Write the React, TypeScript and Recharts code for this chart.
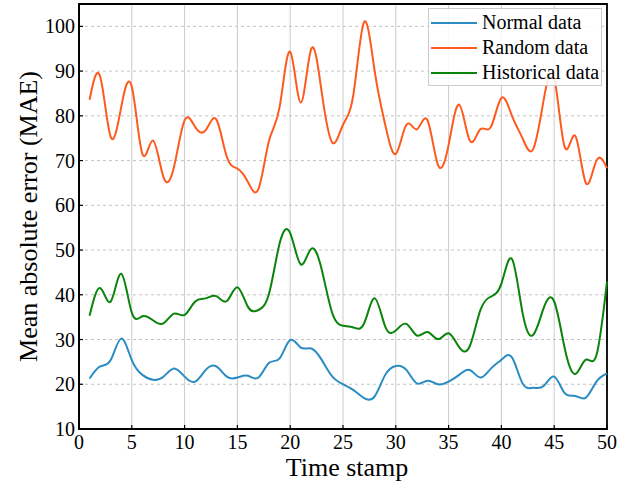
import React from "react";
import {
  CartesianGrid,
  Line,
  LineChart,
  ReferenceArea,
  XAxis,
  YAxis,
} from "recharts";

const timeStamps = Array.from({ length: 50 }, (_, i) => i + 1);

const normalData = [
  21.3, 24, 25.4, 30.2, 25.4, 22.1, 21, 21.7, 23.5, 21.7,
  20.6, 23.2, 24, 21.7, 21.5, 21.9, 21.5, 24.8, 25.8, 29.9,
  28.2, 28, 25.4, 21.7, 20, 18.7, 16.9, 17.3, 22.1, 24.1,
  23.2, 20.2, 20.8, 20, 20.6, 22.1, 23.2, 21.5, 23.5, 25.5,
  26, 20.2, 19.2, 19.6, 21.7, 18, 17.4, 17, 20.6, 22.4,
];

const randomData = [
  83.6, 88.8, 75.3, 82, 86.5, 71.5, 74.5, 66.3, 68.6, 79,
  77.5, 76.8, 79.2, 70.8, 68.2, 65.2, 63.7, 74.5, 82, 94.3,
  83, 95, 85, 74, 78, 85, 101, 90, 78, 71.5,
  78, 77, 79, 69, 73.5, 82.5, 74.5, 77, 77.5, 84,
  80, 75, 72.5, 83.5, 88.5, 73, 75.5, 65, 70, 68.3,
];

const historicalData = [
  35.3, 41.5, 38.5, 44.7, 36, 35.2, 34.3, 33.6, 35.8, 35.5,
  38.5, 39.2, 39.7, 38.6, 41.7, 37.3, 36.6, 40.3, 51.5, 53.8,
  46.8, 50.3, 45.5, 35.8, 33.1, 32.7, 33.6, 39.2, 32.9, 32,
  33.5, 30.9, 31.7, 30.1, 31.4, 28.3, 28.5, 36.5, 39.6, 42.5,
  48, 36, 31, 37, 38.5, 28, 22.3, 25.5, 26.5, 43,
];

const xTicks = [0, 5, 10, 15, 20, 25, 30, 35, 40, 45, 50];
const yTicks = [10, 20, 30, 40, 50, 60, 70, 80, 90, 100];

const series = [
  { key: "normal", name: "Normal data", color: "#2b8cc4" },
  { key: "random", name: "Random data", color: "#ff5a1e" },
  { key: "historical", name: "Historical data", color: "#0a840a" },
];

const rows = timeStamps.map((t, i) => ({
  t,
  normal: normalData[i],
  random: randomData[i],
  historical: historicalData[i],
}));

const FONT = "'Liberation Serif', 'Times New Roman', serif";

function XTick({ x, y, payload }: any) {
  return (
    <g>
      <line x1={x} y1={y} x2={x} y2={y - 4} stroke="#000" strokeWidth={1.2} />
      <text x={x} y={y + 20} textAnchor="middle" style={{ fontFamily: FONT, fontSize: 20 }} fill="#000">
        {payload.value}
      </text>
    </g>
  );
}

function YTick({ x, y, payload }: any) {
  return (
    <g>
      <line x1={x} y1={y} x2={x + 4} y2={y} stroke="#000" strokeWidth={1.2} />
      <text x={x - 4} y={y + 7} textAnchor="end" style={{ fontFamily: FONT, fontSize: 20 }} fill="#000">
        {payload.value}
      </text>
    </g>
  );
}

function XLabel({ viewBox }: any) {
  const cx = viewBox.x + viewBox.width / 2 + 4;
  return (
    <text x={cx} y={viewBox.y + 47} textAnchor="middle" style={{ fontFamily: FONT, fontSize: 26 }} fill="#000">
      Time stamp
    </text>
  );
}

function YLabel({ viewBox }: any) {
  const bx = viewBox.x + 37;
  const cy = viewBox.y + viewBox.height / 2;
  return (
    <text
      x={bx}
      y={cy}
      transform={`rotate(-90 ${bx} ${cy})`}
      textAnchor="middle"
      style={{ fontFamily: FONT, fontSize: 26 }}
      fill="#000"
    >
      Mean absolute error (MAE)
    </text>
  );
}

function LegendBox() {
  return (
    <div
      style={{
        position: "absolute",
        left: 428,
        top: 8,
        width: 172,
        height: 76,
        border: "1px solid #cccccc",
        background: "rgba(255,255,255,0.85)",
        fontFamily: FONT,
        fontSize: 20,
      }}
    >
      {series.map((s, i) => (
        <div
          key={s.key}
          style={{
            position: "absolute",
            left: 2,
            top: 1 + i * 25,
            height: 25,
            display: "flex",
            alignItems: "center",
            whiteSpace: "nowrap",
          }}
        >
          <span style={{ display: "inline-block", width: 46, height: 2, background: s.color }} />
          <span style={{ marginLeft: 5, lineHeight: "25px" }}>{s.name}</span>
        </div>
      ))}
    </div>
  );
}

export default function App() {
  return (
    <div
      style={{
        position: "absolute",
        left: 0,
        top: 0,
        width: 638,
        height: 487,
        background: "#fff",
        fontFamily: FONT,
      }}
    >
      <LineChart
        width={638}
        height={487}
        data={rows}
        margin={{ top: 4, right: 31, left: 0, bottom: 0 }}
        style={{ fontFamily: FONT }}
      >
        <CartesianGrid horizontal={false} stroke="#cccccc" strokeWidth={1} />
        <CartesianGrid vertical={false} stroke="#c4c4c4" strokeDasharray="3 3" strokeWidth={1} />
        <XAxis
          dataKey="t"
          type="number"
          domain={[0, 50]}
          ticks={xTicks}
          height={58}
          tickSize={0}
          tickMargin={0}
          tickLine={false}
          axisLine={{ stroke: "#000", strokeWidth: 1.8 }}
          tick={<XTick />}
          label={<XLabel />}
        />
        <YAxis
          type="number"
          domain={[10, 105]}
          ticks={yTicks}
          width={79}
          tickSize={0}
          tickMargin={0}
          tickLine={false}
          axisLine={{ stroke: "#000", strokeWidth: 1.8 }}
          tick={<YTick />}
          label={<YLabel />}
        />
        <ReferenceArea
          x1={0}
          x2={50}
          y1={10}
          y2={105}
          fill="none"
          stroke="#000"
          strokeWidth={1.8}
          ifOverflow="visible"
        />
        {series.map((s) => (
          <Line
            key={s.key}
            type="natural"
            dataKey={s.key}
            name={s.name}
            stroke={s.color}
            strokeWidth={2}
            dot={false}
            isAnimationActive={false}
          />
        ))}
      </LineChart>
      <LegendBox />
    </div>
  );
}
